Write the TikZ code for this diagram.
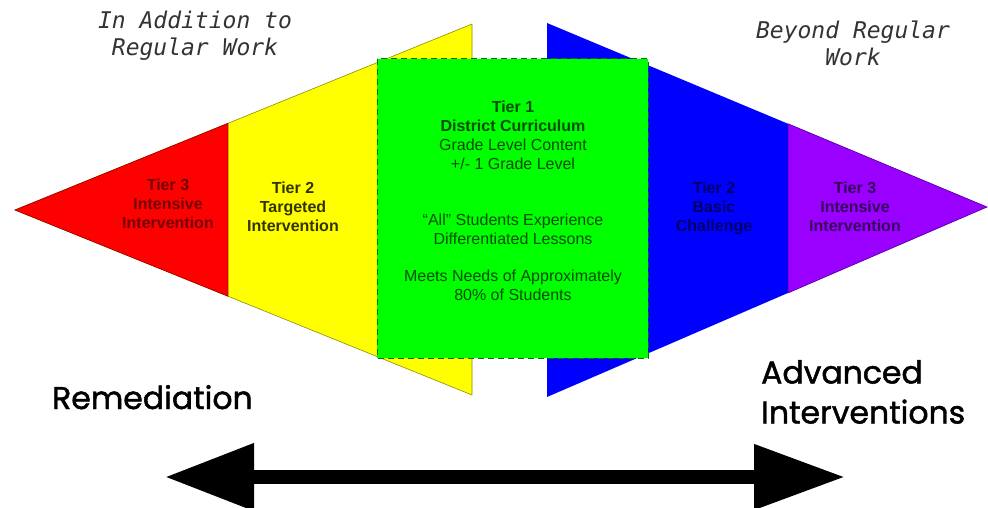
\documentclass[tikz,border=0pt]{standalone}
\usepackage{fontspec}
\setmainfont{Liberation Sans}
\newfontfamily\sidefont{DejaVu Sans Mono}
\newfontfamily\endfont[UprightFeatures={FakeBold=1.5}]{Poppins}
\usepackage{tikz}
\usetikzlibrary{calc,arrows.meta}
\definecolor{tierred}{rgb}{1,0,0}
\definecolor{tieryellow}{rgb}{1,1,0}
\definecolor{tiergreen}{rgb}{0,1,0}
\definecolor{tierblue}{rgb}{0,0,1}
\definecolor{tierpurple}{rgb}{.6,0,1}
\tikzset{
  tiertext/.style={font=\fontsize{16}{19}\selectfont, align=center, inner sep=0pt, anchor=north},
  sidetext/.style={font=\sidefont\itshape\fontsize{23}{27}\selectfont, text=black!80, align=center, inner sep=0pt, anchor=north},
  endtext/.style={font=\endfont\fontsize{31.5}{40}\selectfont, align=left, inner sep=0pt},
}

\begin{document}
\begin{tikzpicture}[x=1pt, y=-1pt]
  \useasboundingbox (0,0) rectangle (988,508);

  % corners of the two big triangles
  \coordinate (lapex) at (15,210);
  \coordinate (ltop) at (472,24);
  \coordinate (lbot) at (472,395);
  \coordinate (rapex) at (987,207);
  \coordinate (rtop) at (547,23);
  \coordinate (rbot) at (547,397);

  % left side: yellow then red
  \filldraw[fill=tieryellow, draw=tieryellow!55!black, line width=0.6pt]
    (lapex) -- (ltop) -- (lbot) -- cycle;
  \filldraw[fill=tierred, draw=tierred!60!black, line width=0.6pt]
    (lapex) -- ($(lapex)!0.466!(ltop)$) -- ($(lapex)!0.466!(lbot)$) -- cycle;

  % right side: blue then purple
  \fill[tierblue] (rapex) -- (rtop) -- (rbot) -- cycle;
  \filldraw[fill=tierpurple, draw=tierpurple!60!black, line width=0.6pt]
    (rapex) -- ($(rapex)!0.452!(rtop)$) -- ($(rapex)!0.452!(rbot)$) -- cycle;

  % Tier 1 box in the middle
  \filldraw[fill=tiergreen, draw=tiergreen!45!black, line width=1pt, dash pattern=on 6pt off 4pt]
    (377,59) rectangle (648,358);

  % labels of the tiers
  \node[tiertext, text=tierred!45!black] (redtier) at (168,178.5)
    {\textbf{Tier 3}\\\textbf{Intensive}\\\textbf{Intervention}};
  \node[tiertext, text=tieryellow!20!black] (yellowtier) at (293,181.5)
    {\textbf{Tier 2}\\\textbf{Targeted}\\\textbf{Intervention}};
  \node[tiertext, text=tiergreen!30!black] (greentier) at (513,100.5)
    {\textbf{Tier 1}\\\textbf{District Curriculum}\\Grade Level Content\\+/- 1 Grade Level\\[37pt]
     “All” Students Experience\\Differentiated Lessons\\[18pt]
     Meets Needs of Approximately\\80\% of Students};
  \node[tiertext, text=tierblue!40!black] (bluetier) at (714,181.5)
    {\textbf{Tier 2}\\\textbf{Basic}\\\textbf{Challenge}};
  \node[tiertext, text=tierpurple!35!black] (purpletier) at (855,181.5)
    {\textbf{Tier 3}\\\textbf{Intensive}\\\textbf{Intervention}};

  % notes above the triangles
  \node[sidetext] (addition) at (195,10.5) {In Addition to\\Regular Work};
  \node[sidetext] (beyond) at (853,20.5) {Beyond Regular\\Work};

  % the two ends
  \node[endtext, anchor=base west] (remedy) at (52,409) {Remediation};
  \node[endtext, anchor=north west] (advanced) at (761,360) {Advanced\\Interventions};

  % double arrow underneath
  \coordinate (arrowl) at (165,477);
  \coordinate (arrowr) at (845,477);
  \draw[line width=14pt, {Triangle[length=89pt,width=64pt]}-{Triangle[length=91pt,width=62pt]}]
    (arrowl) -- (arrowr);
\end{tikzpicture}
\end{document}
